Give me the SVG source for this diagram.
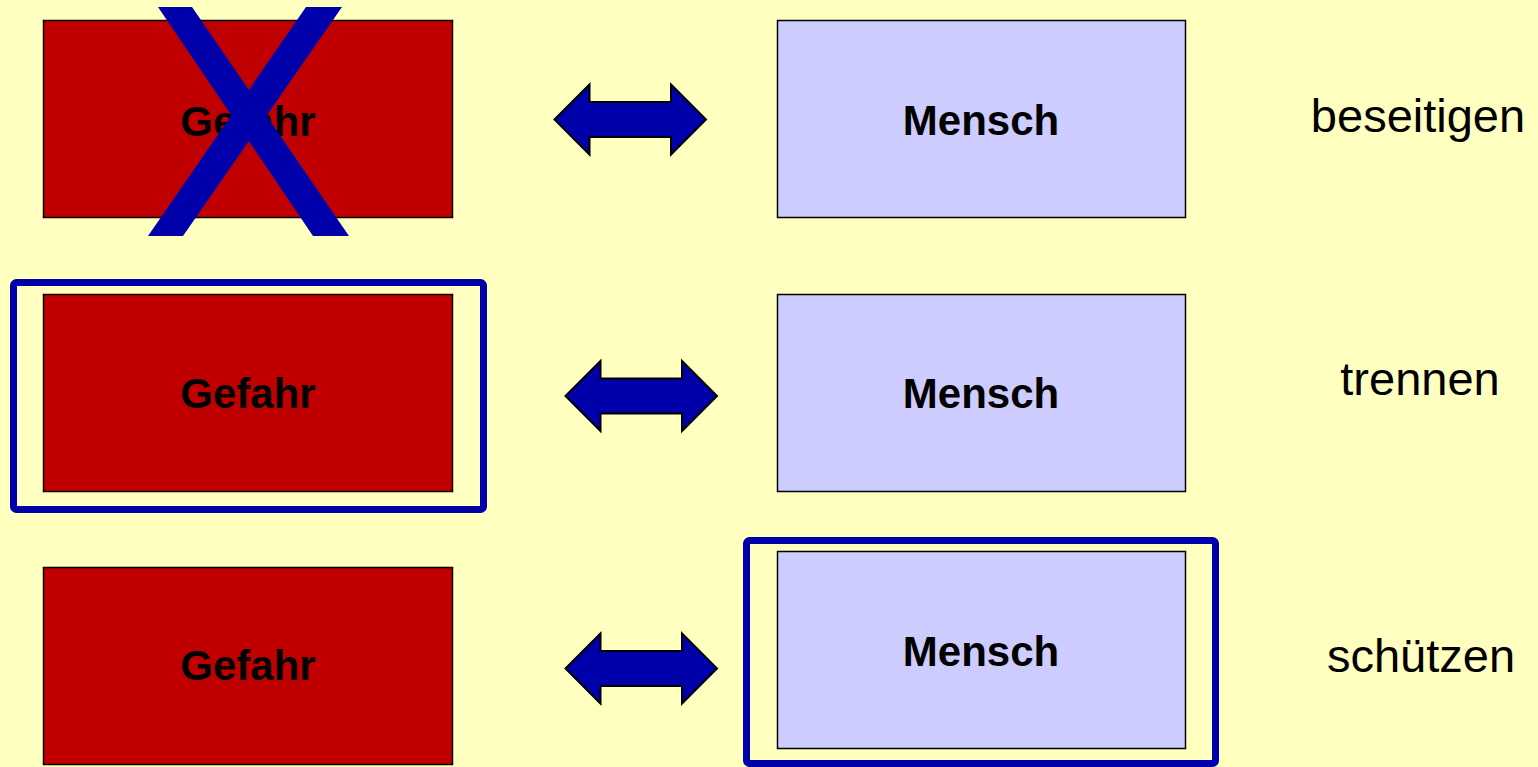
<svg xmlns="http://www.w3.org/2000/svg" width="1538" height="767" viewBox="0 0 1538 767">
<defs>
<style>
.gef{fill:#C00000;stroke:#000;stroke-width:1.5}
.men{fill:#CCCCFF;stroke:#000;stroke-width:1.5}
.lbl{font-family:"Liberation Sans",Arial,sans-serif;font-weight:bold;font-size:42px;fill:#000;text-anchor:middle}
.act{font-family:"Liberation Sans",Arial,sans-serif;font-size:47px;fill:#000;text-anchor:middle}
.frame{fill:none;stroke:#0000AA;stroke-width:7}
.arr{fill:#0000AA;stroke:#000;stroke-width:2;stroke-linejoin:miter}
</style>
<path id="dblarrow" class="arr" d="M0,0 L35,-35 L35,-17.5 L116.5,-17.5 L116.5,-35 L151.5,0 L116.5,35 L116.5,17.5 L35,17.5 L35,35 Z"/>
</defs>
<rect x="0" y="0" width="1538" height="767" fill="#FFFFC0"/>

<g id="gefahr1">
<rect class="gef" x="43.5" y="20.5" width="409" height="197"/>
<text class="lbl" x="248" y="136">Gefahr</text>
</g>
<g id="cross">
<polygon points="158,7 192,7 349,236 313,236" fill="#0000AA"/>
<polygon points="306,7 342,7 183,236 148,236" fill="#0000AA"/>
</g>
<g id="mensch1">
<rect class="men" x="777.5" y="20.5" width="408" height="197"/>
<text class="lbl" x="981" y="135">Mensch</text>
</g>
<g id="beseitigen"><text class="act" x="1418" y="132">beseitigen</text></g>

<g id="trennframe">
<rect class="frame" x="13.5" y="282.5" width="470" height="227" rx="3"/>
</g>
<g id="gefahr2">
<rect class="gef" x="43.5" y="294.5" width="409" height="197"/>
<text class="lbl" x="248" y="408">Gefahr</text>
</g>
<g id="mensch2">
<rect class="men" x="777.5" y="294.5" width="408" height="197"/>
<text class="lbl" x="981" y="408">Mensch</text>
</g>
<g id="trennen"><text class="act" x="1420" y="395">trennen</text></g>

<g id="gefahr3">
<rect class="gef" x="43.5" y="567.5" width="409" height="197"/>
<text class="lbl" x="248" y="680">Gefahr</text>
</g>
<g id="schutzframe">
<rect class="frame" x="746.5" y="540.5" width="469" height="223" rx="3"/>
</g>
<g id="mensch3">
<rect class="men" x="777.5" y="551.5" width="408" height="197"/>
<text class="lbl" x="981" y="666">Mensch</text>
</g>
<g id="schuetzen"><text class="act" x="1421" y="672">schützen</text></g>

<g id="connectors">
<use href="#dblarrow" x="554.5" y="119.5"/>
<use href="#dblarrow" x="565.5" y="396"/>
<use href="#dblarrow" x="565.5" y="668.5"/>
</g>
</svg>
